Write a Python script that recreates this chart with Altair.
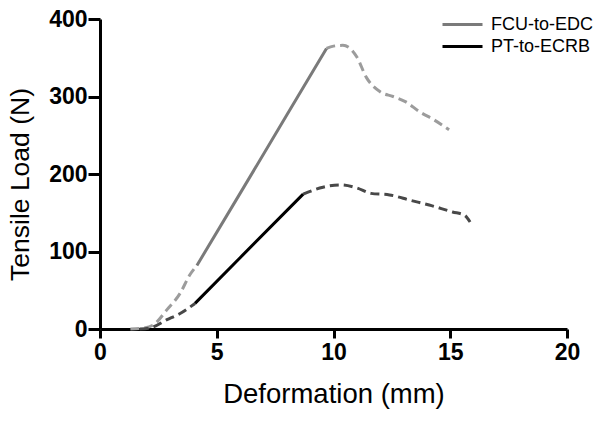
import altair as alt
import pandas as pd

series_names = ["FCU-to-EDC", "PT-to-ECRB"]

# FCU-to-EDC
fcu_toe_x = [1.3, 1.8, 2.27, 2.87, 3.43, 3.85, 4.15]
fcu_toe_y = [0, 1, 5, 25, 46, 70, 82]
fcu_lin_x = [4.15, 6.0, 8.0, 9.7]
fcu_lin_y = [82, 175, 276, 362]
fcu_post_x = [9.7, 10.0, 10.4, 11.0, 11.4, 12.0, 12.55, 13.1, 13.7, 14.3, 14.95]
fcu_post_y = [362, 365, 366, 351, 325, 306, 300, 293, 280, 270, 257]

# PT-to-ECRB
pt_toe_x = [1.7, 2.1, 2.87, 3.43, 4.07]
pt_toe_y = [0, 1, 12, 20, 33]
pt_lin_x = [4.07, 6.0, 8.7]
pt_lin_y = [33, 92, 174]
pt_post_x = [8.7, 9.55, 10.3, 11.0, 11.6, 12.4, 13.3, 14.1, 15.1, 15.6, 15.85]
pt_post_y = [174, 183, 186, 182, 175, 173, 166, 160, 151, 147, 138]

dash_shades = {"FCU-to-EDC": "#9c9c9c", "PT-to-ECRB": "#484848"}

rows = []


def add(xs, ys, series, seg):
    for i, (a, b) in enumerate(zip(xs, ys)):
        rows.append(dict(x=a, y=b, series=series, seg=seg, key=series + "|" + seg,
                         shade=dash_shades[series], i=i))


add(fcu_toe_x, fcu_toe_y, "FCU-to-EDC", "toe")
add(fcu_lin_x, fcu_lin_y, "FCU-to-EDC", "lin")
add(fcu_post_x, fcu_post_y, "FCU-to-EDC", "post")
add(pt_toe_x, pt_toe_y, "PT-to-ECRB", "toe")
add(pt_lin_x, pt_lin_y, "PT-to-ECRB", "lin")
add(pt_post_x, pt_post_y, "PT-to-ECRB", "post")

df = pd.DataFrame(rows)

FONT = "Liberation Sans"

xenc = alt.X("x:Q", title="Deformation (mm)",
             scale=alt.Scale(domain=[0, 20], nice=False),
             axis=alt.Axis(values=[0, 5, 10, 15, 20], tickSize=9, labelPadding=3,
                           labelFlush=False, titleFontSize=27.5,
                           titleY=73, titleBaseline="alphabetic"))
yenc = alt.Y("y:Q", title="Tensile Load (N)",
             scale=alt.Scale(domain=[0, 400], nice=False),
             axis=alt.Axis(values=[0, 100, 200, 300, 400], tickSize=12, labelPadding=1,
                           labelFlush=False, titleFontSize=26.5,
                           titleX=-72, titleY=165, titleBaseline="alphabetic"))

base = alt.Chart(df)

dashed = base.transform_filter(alt.datum.seg != "lin").mark_line(
    strokeDash=[9, 5], strokeWidth=3, interpolate="monotone"
).encode(
    x=xenc, y=yenc,
    detail="key:N",
    order="i:Q",
    color=alt.Color("shade:N", scale=None),
)

solid = base.transform_filter(alt.datum.seg == "lin").mark_line(
    strokeWidth=3
).encode(
    x=xenc, y=yenc,
    detail="key:N",
    order="i:Q",
    color=alt.Color("series:N",
                    scale=alt.Scale(domain=series_names, range=["#7a7a7a", "#000000"]),
                    legend=alt.Legend(title=None, orient="none", legendX=351, legendY=-6,
                                      symbolType="M-2,0H2", symbolSize=400,
                                      symbolStrokeWidth=3, labelFontSize=18,
                                      labelFont=FONT, labelColor="black",
                                      labelOffset=17, rowPadding=1, padding=0)),
)

chart = alt.layer(dashed, solid).properties(
    width=467, height=310,
    autosize=alt.AutoSizeParams(type="none"),
    padding={"left": 92, "top": 11, "right": 29, "bottom": 84},
).configure_view(stroke=None).configure_axis(
    grid=False,
    domainColor="black", domainWidth=3,
    tickColor="black", tickWidth=3,
    labelFont=FONT, labelFontSize=23, labelFontWeight="bold", labelColor="black",
    titleFont=FONT, titleFontWeight="normal", titleColor="black",
)

chart.save("out.html", embed_options={"renderer": "svg", "actions": False})
